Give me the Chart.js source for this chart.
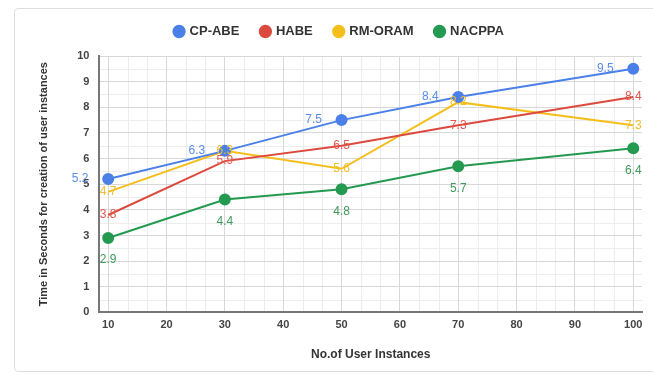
<!DOCTYPE html>
<html>
<head>
<meta charset="utf-8">
<script src="https://cdn.jsdelivr.net/npm/chart.js@4.4.1/dist/chart.umd.min.js"></script>
<style>
  html, body { margin: 0; padding: 0; background: #fff; width: 653px; height: 374px; overflow: hidden; }
  #wrap { position: absolute; left: 0; top: 0; width: 653px; height: 374px; }
  #frame { position: absolute; left: 14px; top: 8px; width: 645px; height: 364px; border: 1px solid #dedede; border-radius: 4px; box-sizing: border-box; pointer-events: none; }
</style>
</head>
<body>
<div id="wrap"><canvas id="chart"></canvas></div>
<div id="frame"></div>
<script>
// Number of user instances on the x axis
const instances = [10, 30, 50, 70, 100];
const xTicks = [10, 20, 30, 40, 50, 60, 70, 80, 90, 100];
const yTicks = [0, 1, 2, 3, 4, 5, 6, 7, 8, 9, 10];

// Time in seconds for each scheme
const cpAbe  = [5.2, 6.3, 7.5, 8.4, 9.5];
const habe   = [3.8, 5.9, 6.5, 7.3, 8.4];
const rmOram = [4.7, 6.3, 5.6, 8.2, 7.3];
const nacppa = [2.9, 4.4, 4.8, 5.7, 6.4];

const seriesNames = ['CP-ABE', 'HABE', 'RM-ORAM', 'NACPPA'];

const toPoints = vals => vals.map((v, i) => ({ x: instances[i], y: v }));

// Extra space between the legend row and the plot
const legendGap = {
  id: 'legendGap',
  beforeInit(chart) {
    const fit = chart.legend.fit;
    chart.legend.fit = function () {
      fit.call(this);
      this.height += 8;
    };
  }
};

// Light minor gridlines under the main grid
const minorGrid = {
  id: 'minorGrid',
  beforeDraw(chart) {
    const { ctx, chartArea: a, scales: { x, y } } = chart;
    ctx.save();
    ctx.strokeStyle = '#ededed';
    ctx.lineWidth = 1;
    ctx.beginPath();
    for (let i = 0; i < xTicks.length - 1; i++) {
      for (let k = 1; k < 3; k++) {
        const px = Math.round(x.getPixelForValue(xTicks[i] + (xTicks[i + 1] - xTicks[i]) * k / 3)) + 0.5;
        ctx.moveTo(px, a.top); ctx.lineTo(px, a.bottom);
      }
    }
    for (let i = 0; i < yTicks.length - 1; i++) {
      const py = Math.round(y.getPixelForValue((yTicks[i] + yTicks[i + 1]) / 2)) + 0.5;
      ctx.moveTo(a.left, py); ctx.lineTo(a.right, py);
    }
    ctx.stroke();
    ctx.restore();
  }
};

// Value labels next to each point
const valueLabels = {
  id: 'valueLabels',
  afterDatasetsDraw(chart) {
    const ctx = chart.ctx;
    ctx.save();
    ctx.font = '12px "Liberation Sans", Arial, sans-serif';
    ctx.textAlign = 'center';
    ctx.textBaseline = 'middle';
    chart.data.datasets.forEach((ds, di) => {
      const meta = chart.getDatasetMeta(di);
      const off = ds.labelOffset;
      ctx.fillStyle = ds.labelColor;
      meta.data.forEach((pt, i) => {
        const v = ds.data[i].y;
        ctx.fillText(v.toFixed(1), pt.x + off.x, pt.y + off.y);
      });
    });
    ctx.restore();
  }
};

new Chart(document.getElementById('chart'), {
  type: 'line',
  data: {
    datasets: [
      { label: seriesNames[0], data: toPoints(cpAbe), borderColor: '#4a80e8', backgroundColor: '#4a80e8',
        pointRadius: 5, pointHoverRadius: 5, borderWidth: 2, labelColor: '#5a8de6', labelOffset: { x: -28, y: 0 } },
      { label: seriesNames[1], data: toPoints(habe), borderColor: '#dc4a3e', backgroundColor: '#dc4a3e',
        pointRadius: 0, borderWidth: 2, labelColor: '#e0574c', labelOffset: { x: 0, y: 0 } },
      { label: seriesNames[2], data: toPoints(rmOram), borderColor: '#f4bf1c', backgroundColor: '#f4bf1c',
        pointRadius: 0, borderWidth: 2, labelColor: '#efbe2a', labelOffset: { x: 0, y: 0 } },
      { label: seriesNames[3], data: toPoints(nacppa), borderColor: '#239a50', backgroundColor: '#239a50',
        pointRadius: 5, pointHoverRadius: 5, borderWidth: 2, labelColor: '#3f9a5c', labelOffset: { x: 0, y: 22 } }
    ]
  },
  options: {
    responsive: true,
    maintainAspectRatio: false,
    animation: false,
    layout: { padding: { left: 37, right: 11, top: 3, bottom: 12 } },
    plugins: {
      legend: {
        position: 'top',
        labels: {
          usePointStyle: true,
          pointStyle: 'circle',
          boxWidth: 8,
          boxHeight: 8,
          padding: 22,
          color: '#333',
          font: { family: '"Liberation Sans", Arial, sans-serif', size: 13, weight: 'bold' }
        }
      },
      tooltip: { enabled: false }
    },
    scales: {
      x: {
        type: 'linear',
        min: 8.5,
        max: 101.5,
        afterBuildTicks: s => { s.ticks = xTicks.map(v => ({ value: v })); },
        grid: { color: '#d8d8d8', drawTicks: false },
        border: { color: '#777', width: 2 },
        ticks: { color: '#444', padding: 6, font: { family: '"Liberation Sans", Arial, sans-serif', size: 11, weight: 'bold' } },
        title: { display: true, text: 'No.of User Instances', color: '#333', padding: { top: 10, bottom: 0 },
          font: { family: '"Liberation Sans", Arial, sans-serif', size: 12, weight: 'bold' } }
      },
      y: {
        min: 0,
        max: 10,
        afterBuildTicks: s => { s.ticks = yTicks.map(v => ({ value: v })); },
        grid: { color: '#d8d8d8', drawTicks: false },
        border: { color: '#777', width: 2 },
        ticks: { color: '#444', padding: 10, font: { family: '"Liberation Sans", Arial, sans-serif', size: 11, weight: 'bold' } },
        title: { display: true, text: 'Time in Seconds for creation of user instances', color: '#333', padding: { top: 0, bottom: 17 },
          font: { family: '"Liberation Sans", Arial, sans-serif', size: 11, weight: 'bold' } }
      }
    }
  },
  plugins: [legendGap, minorGrid, valueLabels]
});
</script>
</body>
</html>
